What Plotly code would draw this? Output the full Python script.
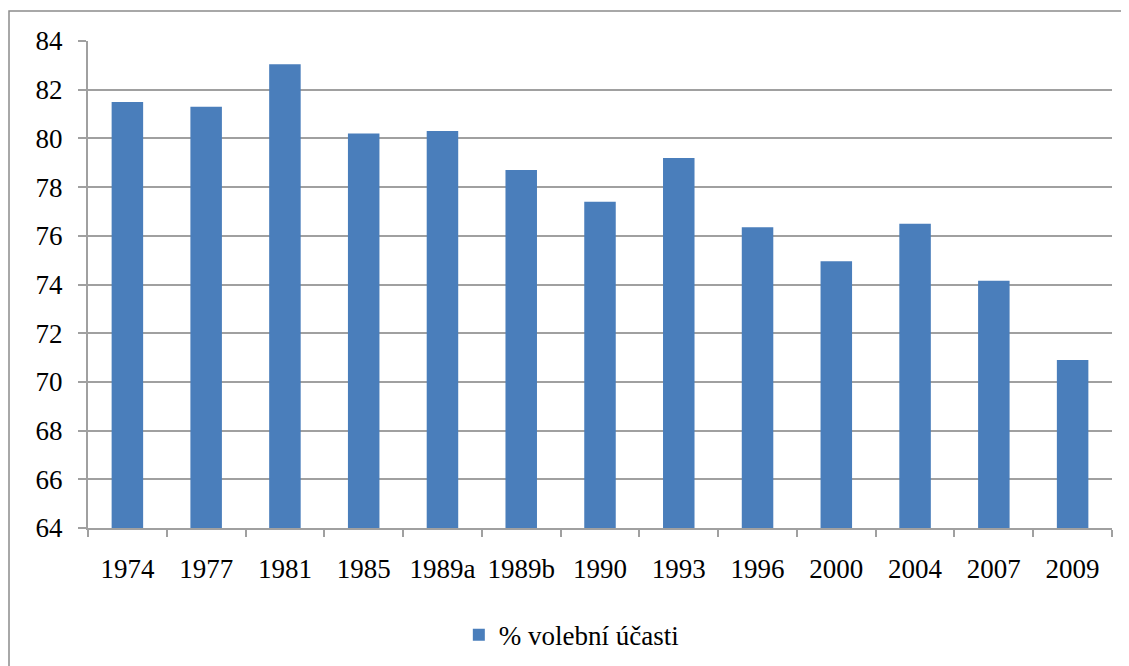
import plotly.graph_objects as go

categories = ["1974", "1977", "1981", "1985", "1989a", "1989b", "1990", "1993", "1996", "2000", "2004", "2007", "2009"]
turnout = [81.5, 81.3, 83.05, 80.2, 80.3, 78.7, 77.4, 79.2, 76.35, 74.95, 76.5, 74.15, 70.9]
series_name = "% volební účasti"

# the page body adds an 8px offset, so the figure is 8px smaller
OFF = 8
W, H = 1129 - OFF, 666 - OFF
L, T = 88 - OFF, 41 - OFF
pw, ph = 1024, 487
R, B = W - L - pw, H - T - ph

fig = go.Figure()
fig.add_trace(go.Bar(x=categories, y=turnout, name=series_name,
                     marker=dict(color="#4A7EBB", line=dict(width=0)),
                     showlegend=True))

grid = "#A0A0A0"
font = dict(family="Liberation Serif", size=27, color="#000000")

fig.update_layout(
    width=W, height=H,
    margin=dict(l=L, r=R, t=T, b=B, autoexpand=False),
    paper_bgcolor="white", plot_bgcolor="white",
    font=font,
    bargap=0.6,
    showlegend=True,
    legend=dict(orientation="h", x=0.472, xanchor="center", y=-0.17, yanchor="top",
                font=font, itemwidth=30),
    xaxis=dict(type="category", showgrid=False, showline=True, linecolor=grid, linewidth=2,
               ticks="outside", tickson="boundaries", ticklen=7, tickcolor=grid, tickwidth=2,
               tickfont=font, automargin=False, ticklabelstandoff=16),
    yaxis=dict(range=[64, 84], dtick=2, tick0=64, showgrid=True, gridcolor=grid, gridwidth=2,
               showline=True, linecolor=grid, linewidth=2, zeroline=False,
               ticks="outside", ticklen=8, tickcolor=grid, tickwidth=2,
               tickfont=font, automargin=False, ticklabelstandoff=10),
    shapes=[dict(type="rect", xref="paper", yref="paper",
                 x0=(1 - L) / pw, x1=(W + 20 - L) / pw,
                 y0=-(H + 20 - T - ph) / ph, y1=(T + ph - (11 - OFF)) / ph,
                 line=dict(color="#8C8C8C", width=1.5), fillcolor="rgba(0,0,0,0)", layer="below")],
)

fig.write_html("out.html")
